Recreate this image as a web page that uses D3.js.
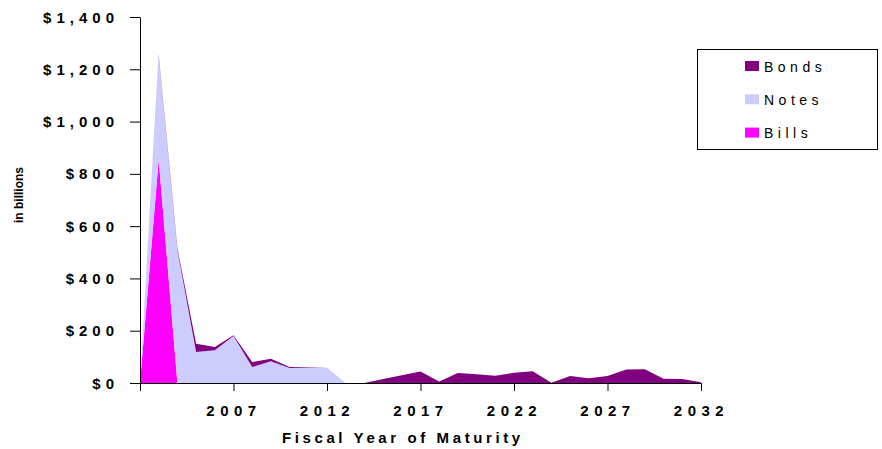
<!DOCTYPE html>
<html>
<head>
<meta charset="utf-8">
<script src="https://cdn.jsdelivr.net/npm/d3@7"></script>
<style>
	body { margin: 0; background: #fff; }
	svg { display: block; font-family: "Liberation Sans", Arial, sans-serif; }
</style>
</head>
<body>
<div id="chart-area"></div>
<script>

// Fiscal years (categories)
let years = [2002, 2003, 2004, 2005, 2006, 2007, 2008, 2009, 2010, 2011,
	2012, 2013, 2014, 2015, 2016, 2017, 2018, 2019, 2020, 2021,
	2022, 2023, 2024, 2025, 2026, 2027, 2028, 2029, 2030, 2031, 2032];

// Series values, in billions
let bills = [0, 855, 0, 0, 0, 0, 0, 0, 0, 0,
	0, 0, 0, 0, 0, 0, 0, 0, 0, 0,
	0, 0, 0, 0, 0, 0, 0, 0, 0, 0, 0];

let notes = [0, 397, 508, 119, 125, 180, 61, 83, 57, 58,
	58, 0, 0, 0, 0, 0, 0, 0, 0, 0,
	0, 0, 0, 0, 0, 0, 0, 0, 0, 0, 0];

let bonds = [0, 5, 7, 31, 13, 3, 19, 10, 4, 2,
	0, 0, 0, 15, 30, 44, 6, 38, 33, 28,
	39, 45, 1, 27, 18, 27, 52, 53, 16, 15, 3];

// Tick values
let yTicks = [0, 200, 400, 600, 800, 1000, 1200, 1400];
let xTicks = [2002, 2007, 2012, 2017, 2022, 2027, 2032];
let xTickLabels = ["", "2007", "2012", "2017", "2022", "2027", "2032"];

// Legend entries (top to bottom)
let legendKeys = ["Bonds", "Notes", "Bills"];

let colors = {Bills: "#ff00ff", Notes: "#ccccff", Bonds: "#800080"};

// build table for the stack
let data = years.map((y, i) => ({year: y, Bills: bills[i], Notes: notes[i], Bonds: bonds[i]}));

drawChart(data);

function drawChart(data){

	let width = 882, height = 449;

	let svg = d3.select("#chart-area").append("svg")
		.attr("width", width)
		.attr("height", height);

	// plot area
	let plot = {left: 140, right: 701, top: 17, bottom: 383};

	let x = d3.scaleLinear()
		.domain([2002, 2032])
		.range([plot.left, plot.right]);

	let y = d3.scaleLinear()
		.domain([0, 1400])
		.range([plot.bottom, plot.top]);

	let stack = d3.stack().keys(["Bills", "Notes", "Bonds"]);
	let series = stack(data);

	let area = d3.area()
		.x(d => x(d.data.year))
		.y0(d => y(d[0]))
		.y1(d => y(d[1]));

	svg.selectAll(".layer")
		.data(series)
		.enter()
		.append("path")
		.attr("class", "layer")
		.attr("d", area)
		.attr("fill", d => colors[d.key]);

	// Axes
	let yAxis = d3.axisLeft(y)
		.tickValues(yTicks)
		.tickSize(10)
		.tickSizeOuter(0)
		.tickPadding(11)
		.tickFormat(d => "$" + d3.format(",")(d));

	let xAxis = d3.axisBottom(x)
		.tickValues(xTicks)
		.tickSize(8)
		.tickSizeOuter(0)
		.tickPadding(14)
		.tickFormat((d, i) => xTickLabels[i]);

	let gy = svg.append("g")
		.attr("class", "y axis")
		.attr("transform", "translate(" + plot.left + ",0)")
		.call(yAxis);

	gy.selectAll("text")
		.attr("dy", "0.34em")
		.style("font-size", "15px")
		.style("font-weight", "bold")
		.style("letter-spacing", "5px")
		.attr("fill", "#000");

	let gx = svg.append("g")
		.attr("class", "x axis")
		.attr("transform", "translate(0," + plot.bottom + ")")
		.call(xAxis);

	gx.selectAll("text")
		.style("font-size", "15px")
		.style("font-weight", "bold")
		.style("letter-spacing", "5.5px")
		.attr("fill", "#000");

	svg.selectAll(".axis path, .axis line")
		.attr("stroke", "#000")
		.attr("stroke-width", 1);

	// Axis titles
	svg.append("text")
		.attr("x", 282)
		.attr("y", 443)
		.style("font-size", "15px")
		.style("font-weight", "bold")
		.style("letter-spacing", "3.6px")
		.text("Fiscal Year of Maturity");

	svg.append("text")
		.attr("transform", "translate(23,195) rotate(-90)")
		.attr("text-anchor", "middle")
		.style("font-size", "12px")
		.style("font-weight", "bold")
		.text("in billions");

	// Legend
	let legend = svg.append("g").attr("class", "legend");

	legend.append("rect")
		.attr("x", 697.5)
		.attr("y", 49.5)
		.attr("width", 180)
		.attr("height", 100)
		.attr("fill", "#fff")
		.attr("stroke", "#000");

	let items = legend.selectAll(".item")
		.data(legendKeys)
		.enter()
		.append("g")
		.attr("class", "item")
		.attr("transform", (d, i) => "translate(0," + (i * 33.3) + ")");

	items.append("rect")
		.attr("x", 745)
		.attr("y", 61)
		.attr("width", 14)
		.attr("height", 10)
		.attr("fill", d => colors[d]);

	items.append("text")
		.attr("x", 764)
		.attr("y", 71.5)
		.style("font-size", "14px")
		.style("letter-spacing", "4.5px")
		.text(d => d);
}
</script>
</body>
</html>
